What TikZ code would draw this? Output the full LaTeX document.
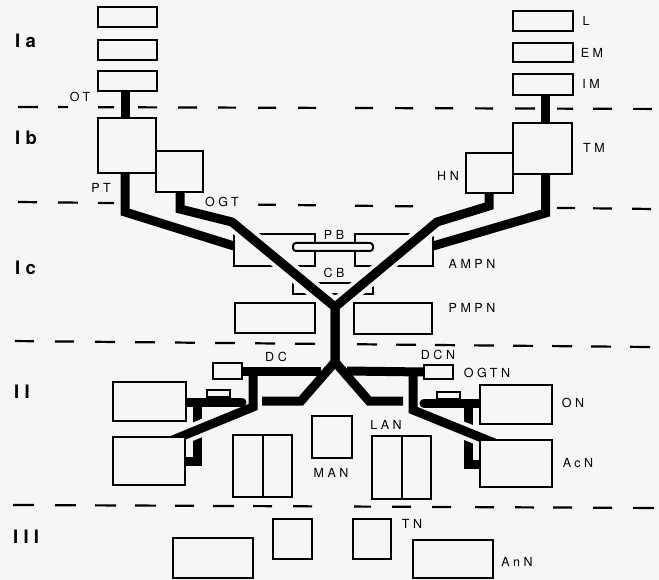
\documentclass[tikz,border=0pt]{standalone}
\usepackage{fontspec}
\newfontfamily\labfont[LetterSpace=28]{TeX Gyre Heros}
\newfontfamily\lvlfont[LetterSpace=28]{TeX Gyre Heros}
\pgfdeclarelayer{bg}
\pgfdeclarelayer{wires}
\pgfsetlayers{bg,wires,main}
\definecolor{paper}{gray}{0.965}
\tikzset{
  boxline/.style={line width=2pt, draw=black},
  box/.style={shape=rectangle, draw=black, line width=2pt, fill=paper, inner sep=0pt, outer sep=0pt},
  dsh/.style={line width=2.2pt, draw=black},
  wire/.style={line width=9pt, draw=black, line join=miter},
  casing/.style={line width=17pt, draw=paper, line join=miter},
  lab/.style={font=\labfont\fontsize{12.5}{14}\selectfont, inner sep=0pt},
  lvl/.style={font=\lvlfont\bfseries\fontsize{18.5}{20}\selectfont, inner sep=0pt, anchor=west},
}
\newcommand\mybox[6][]{\node[box,#1,minimum width={(#5)-(#3)},minimum height={(#6)-(#4)}] (#2) at ({((#3)+(#5))/2},{((#4)+(#6))/2}) {};}
\newcommand\dashrow[3]{\foreach \a/\b in {#3} {\draw[dsh] (\a,{#1+\a*#2}) -- (\b,{#1+\b*#2});}}
\begin{document}
\begin{tikzpicture}[x=1pt,y=-1pt]
\useasboundingbox (0,0) rectangle (659,580);
\begin{pgfonlayer}{bg}
  \fill[paper] (0,0) rectangle (659,580);
  % level separators
  \dashrow{106.9}{0.0031}{18/38,58/68,98/114,138/157,178/197,218/236,258/276,298/316,355/373,395/413,435/453,475/493,515/535,557/573,593/612,633/652}
  \dashrow{201.8}{0.011}{18/37,58/78,98/114,258/276,298/316,355/373,395/413,557/575,593/612,632/651}
  \dashrow{340.9}{0.0094}{15/34,55/74,95/115,135/155,175/195,215/235,255/275,295/315,357/377,396/416,435/455,474/494,513/533,552/572,591/611,630/650}
  \dashrow{504.9}{0.0047}{13/34,55/76,95/116,135/156,175/194,213/234,253/272,293/312,354/371,392/411,432/451,475/494,515/534,553/572,593/612,633/654}
  % boxes crossed by the tracts
  \mybox{ampnl}{234}{234}{315}{266}
  \mybox{ampnr}{355}{234}{433}{266}
  \mybox{cb}{293}{283}{373}{294}
\end{pgfonlayer}

% boxes
\mybox{b1}{98}{7}{157}{27}
\mybox{b2}{98}{40}{157}{60}
\mybox{ot}{98}{71}{157}{91}
\mybox{pt}{98}{118}{156}{173}
\mybox{ogt}{156}{151}{203}{192}
\mybox{l}{513}{11}{573}{31}
\mybox{em}{513}{43}{573}{62}
\mybox{im}{513}{74}{573}{95}
\mybox{tm}{513}{123}{572}{174}
\mybox{hn}{466}{153}{513}{193}
\mybox[rounded corners=3pt]{pb}{293}{243}{373}{251}
\mybox{pmpnl}{235}{303}{315}{333}
\mybox{pmpnr}{354}{303}{432}{334}
\mybox{dc}{213}{363}{242}{379}
\mybox{dcn}{424}{365}{453}{379}
\mybox{ul}{113}{382}{186}{421}
\mybox{sl}{207}{390}{230}{397}
\mybox{ll}{113}{437}{185}{485}
\mybox{lp}{233}{435}{292}{497}
\mybox{man}{312}{416}{352}{458}
\mybox{lan}{372}{436}{431}{499}
\mybox{on}{480}{385}{552}{424}
\mybox{sr}{437}{392}{460}{399}
\mybox{acn}{480}{440}{552}{487}
\mybox{tA}{173}{538}{253}{578}
\mybox{tB}{273}{519}{312}{559}
\mybox{tn}{353}{519}{391}{559}
\mybox{ann}{413}{540}{493}{578}
\draw[boxline] (lp.north) -- (lp.south);
\draw[boxline] (lan.north) -- (lan.south);
% restore AMPN outer edges where tracts end
\draw[boxline] (ampnl.south west) -- ++(0,-30);
\draw[boxline] (ampnr.south east) -- ++(0,-29);

% bend points
\coordinate (k1) at (125,212);
\coordinate (k2) at (180,209);
\coordinate (k3) at (232,222);
\coordinate (x0) at (335,307);
\coordinate (x1) at (335,362);
\coordinate (k4) at (489,206);
\coordinate (k5) at (437,222);
\coordinate (k6) at (545.5,213);
\coordinate (d1) at (253,371);
\coordinate (d2) at (253,407);
\coordinate (d3) at (413,371);
\coordinate (d4) at (413,410);
\coordinate (hb1) at (321,371);
\coordinate (hb2) at (347,371);
\coordinate (s1) at (197,402);
\coordinate (s2) at (197,461);
\coordinate (s3) at (468,403);
\coordinate (s4) at (468,464);
\coordinate (s5) at (242,402);
\coordinate (s6) at (424,403);
\coordinate (a1) at (262,401);
\coordinate (a2) at (301,401);
\coordinate (a3) at (369,401);
\coordinate (a4) at (403,401);

\begin{pgfonlayer}{wires}
  % stubs cut by the tracts
  \draw[wire] (s1) -- (s2) -- (s2 -| ll.east);
  \draw[wire] (s3) -- (s4) -- (s4 -| acn.west);
  % DC and DCN tracts
  \draw[casing,shorten >=-8pt] (d1) -- (d2) -- ([xshift=-5pt]ll.north east);
  \draw[wire,shorten >=-8pt] (d1) -- (d2) -- ([xshift=-5pt]ll.north east);
  \draw[casing,shorten >=-8pt] (d3) -- (d4) -- ([xshift=7pt]acn.north west);
  \draw[wire,shorten >=-8pt] (d3) -- (d4) -- ([xshift=7pt]acn.north west);
  % OT and IM links
  \draw[casing] (ot.south -| k1) -- (pt.north -| k1);
  \draw[wire] (ot.south -| k1) -- (pt.north -| k1);
  \draw[casing] (im.south -| k6) -- (tm.north -| k6);
  \draw[wire] (im.south -| k6) -- (tm.north -| k6);
  % PT and TM tracts
  \draw[casing] (pt.south -| k1) -- (k1) -- ([yshift=4pt]ampnl.west);
  \draw[wire] (pt.south -| k1) -- (k1) -- ([yshift=4pt]ampnl.west);
  \draw[casing] (tm.south -| k6) -- (k6) -- ([yshift=4pt]ampnr.east);
  \draw[wire] (tm.south -| k6) -- (k6) -- ([yshift=4pt]ampnr.east);
  % OGT and HN tracts crossing
  \draw[casing] (ogt.south -| k2) -- (k2) -- (k3) -- (x0) -- (x1);
  \draw[casing] (hn.south -| k4) -- (k4) -- (k5) -- (x0) -- (x1);
  \draw[wire] (ogt.south -| k2) -- (k2) -- (k3) -- (x0) -- (x1);
  \draw[wire] (hn.south -| k4) -- (k4) -- (k5) -- (x0) -- (x1);
  % lower split
  \draw[wire] (a1) -- (a2) -- (x1) -- (a3) -- (a4);
  \draw[wire] (dc.east) -- (hb1);
  \draw[wire] (hb2) -- (dcn.west);
  \draw[wire,line cap=round] (ul.east |- s5) -- (s5);
  \draw[wire,line cap=round] (on.west |- s6) -- (s6);
\end{pgfonlayer}

% labels
\node[lvl] (lIa) at (15,41) {Ia};
\node[lvl] (lIb) at (15,138) {Ib};
\node[lvl] (lIc) at (15,268) {Ic};
\node[lvl] (lII) at (14,392) {II};
\node[lvl] (lIII) at (13,537) {III};
\node[lab] (tOT) at (80,97) {OT};
\node[lab] (tPT) at (101,188) {PT};
\node[lab] (tOGT) at (222,202) {OGT};
\node[lab] (tL) at (586,21) {L};
\node[lab] (tEM) at (592,53) {EM};
\node[lab] (tIM) at (591,84) {IM};
\node[lab] (tTM) at (594,148) {TM};
\node[lab] (tHN) at (448,176) {HN};
\node[lab] (tPB) at (334,235) {PB};
\node[lab] (tCB) at (334,273) {CB};
\node[lab] (tAMPN) at (472,264) {AMPN};
\node[lab] (tPMPN) at (472,308) {PMPN};
\node[lab] (tDC) at (276,357) {DC};
\node[lab] (tDCN) at (438,355) {DCN};
\node[lab] (tOGTN) at (487,373) {OGTN};
\node[lab] (tON) at (573,403) {ON};
\node[lab] (tAcN) at (578,463) {AcN};
\node[lab] (tLAN) at (386,425) {LAN};
\node[lab] (tMAN) at (331,473) {MAN};
\node[lab] (tTN) at (412,524) {TN};
\node[lab] (tAnN) at (517,562) {AnN};
\end{tikzpicture}
\end{document}
